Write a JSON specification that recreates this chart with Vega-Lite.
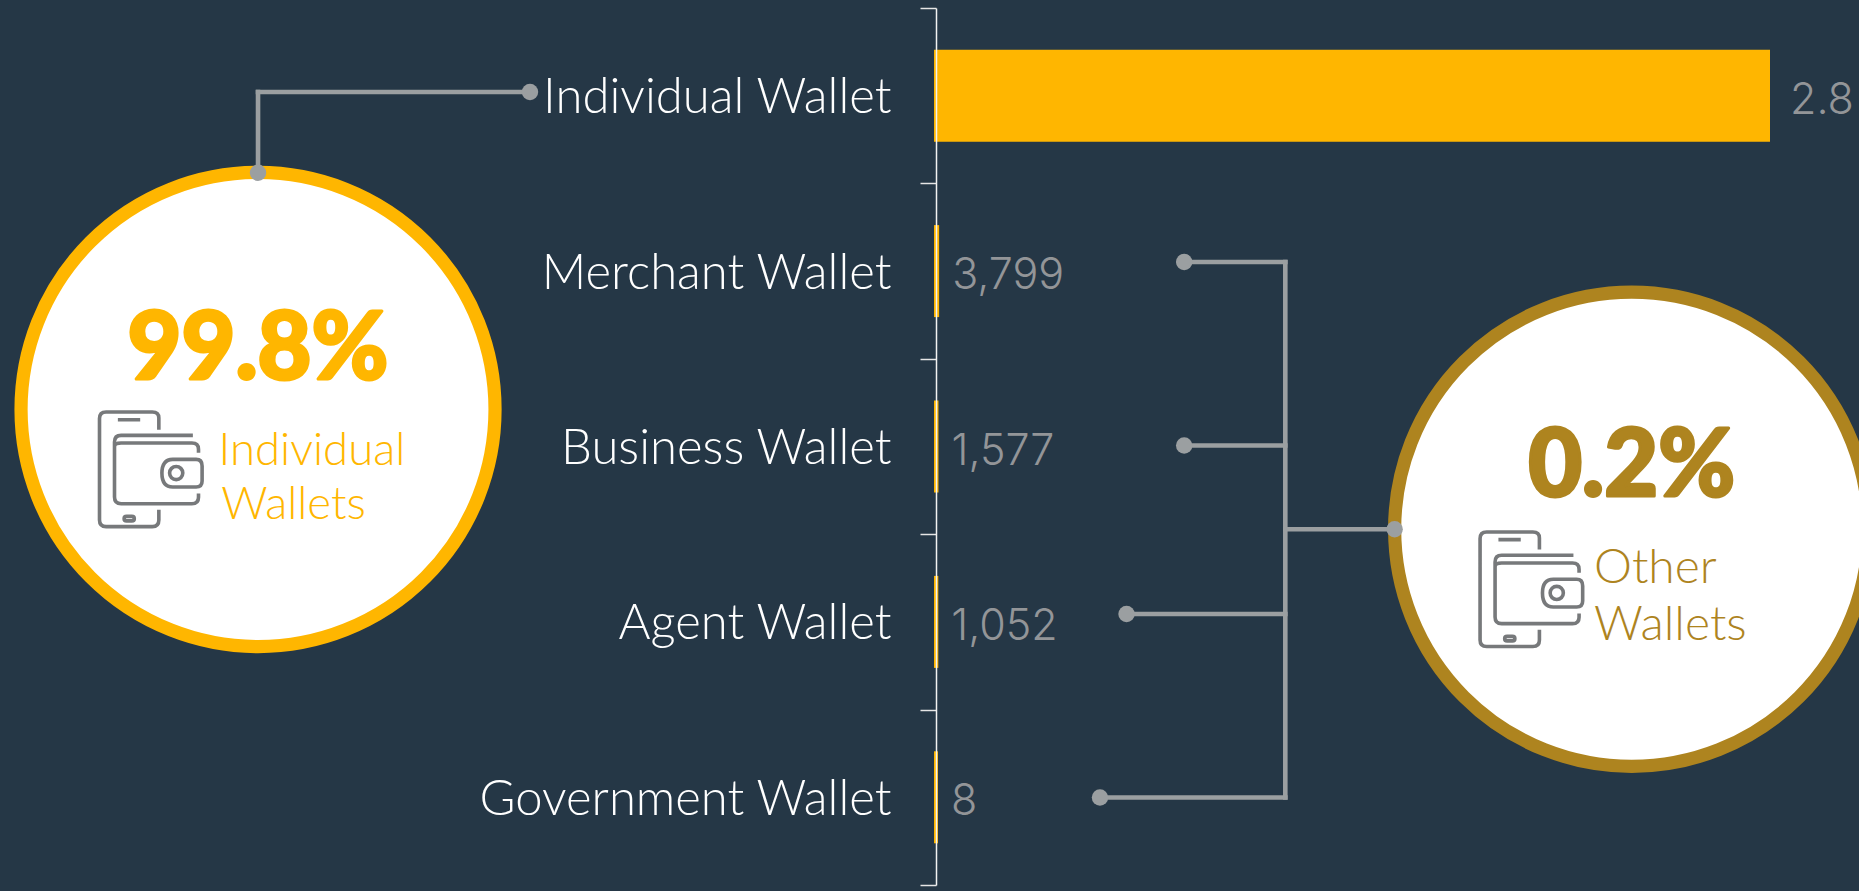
{
"$schema":"https://vega.github.io/schema/vega-lite/v6.json",
"width":1859,"height":891,"autosize":{"type":"none"},"padding":0,"background":"#253746",
"config":{"view":{"stroke":null},"font":"Lato"},
"datasets":{
"wallets":[
{"wallet":"Individual Wallet","value":2800000,"label":"2.8"},
{"wallet":"Merchant Wallet","value":3799,"label":"3,799"},
{"wallet":"Business Wallet","value":1577,"label":"1,577"},
{"wallet":"Agent Wallet","value":1052,"label":"1,052"},
{"wallet":"Government Wallet","value":8,"label":"8"}],
"links":[
{"a":13.88,"b":28.51,"c":10.33,"d":10.33},
{"a":13.88,"b":13.88,"c":10.33,"d":19.3},
{"a":69.14,"b":69.14,"c":29.4,"d":89.51},
{"a":63.64,"b":69.14,"c":29.4,"d":29.4},
{"a":63.64,"b":69.14,"c":50.0,"d":50.0},
{"a":60.57,"b":69.14,"c":68.91,"d":68.91},
{"a":59.17,"b":69.14,"c":89.51,"d":89.51},
{"a":69.14,"b":75.02,"c":59.4,"d":59.4}],
"dots":[
{"a":28.51,"c":10.33},{"a":13.88,"c":19.39},{"a":63.7,"c":29.4},{"a":63.7,"c":50.0},
{"a":60.6,"c":68.91},{"a":59.17,"c":89.51},{"a":75.02,"c":59.4}],
"rings":[
{"group":"Individual","a":13.88,"c":45.96},
{"group":"Other","a":87.77,"c":59.4}],
"icons":[{"a":8.096,"c":52.64},{"a":82.36,"c":66.1}],
"shares":[
{"group":"Individual","text":"99.8%","a":13.88,"c":42.54},
{"group":"Other","text":"0.2%","a":87.77,"c":55.67}],
"namesA":[
{"group":"Individual","text":"Individual","a":11.75,"c":52.19},
{"group":"Individual","text":"Wallets","a":11.9,"c":58.25}],
"namesB":[
{"group":"Other","text":"Other","a":85.75,"c":65.4},
{"group":"Other","text":"Wallets","a":85.75,"c":71.83}]
},
"resolve":{"scale":{"x":"independent","y":"independent"}},
"layer":[
{"data":{"name":"wallets"},
 "encoding":{
  "y":{"field":"wallet","type":"nominal","sort":null,"title":null,
   "scale":{"range":[8,885],"paddingInner":0,"paddingOuter":0},
   "axis":{"orient":"left","offset":-936,"zindex":1,"title":null,"tickBand":"extent","domainColor":"#F2F2F2","domainWidth":1.5,"tickColor":"#E6E6E6","tickWidth":1.5,"tickSize":16,"labelPadding":29,"labelColor":"#FFFFFF","labelFont":"Lato","labelFontSize":49,"labelFontWeight":300,"labelOffset":2,"labelLimit":600,"grid":false}},
  "x":{"field":"value","type":"quantitative","title":null,"axis":null,
   "scale":{"domain":[0,2800000],"range":[936,1768],"nice":false,"zero":true}}},
 "layer":[
  {"mark":{"type":"bar","size":88,"color":"#FFB600","stroke":"#FFB600","strokeWidth":4,"clip":false}},
  {"transform":[{"filter":"datum.value < 100000"}],
   "mark":{"type":"text","align":"left","baseline":"middle","dx":15,"dy":5,"color":"#939598","font":"Inter","fontSize":43,"fontWeight":300},
   "encoding":{"text":{"field":"label","type":"nominal"}}},
  {"transform":[{"filter":"datum.value >= 100000"}],
   "mark":{"type":"text","align":"left","baseline":"middle","dx":22,"dy":5,"color":"#939598","font":"Inter","fontSize":43,"fontWeight":300},
   "encoding":{"text":{"field":"label","type":"nominal"}}}
 ]},
{"encoding":{
  "x":{"field":"a","type":"quantitative","title":null,"axis":null,"scale":{"domain":[0,100],"range":[0,1859],"nice":false,"zero":false}},
  "y":{"field":"c","type":"quantitative","title":null,"axis":null,"scale":{"domain":[0,100],"range":[0,891],"nice":false,"zero":false}}},
 "layer":[
  {"data":{"name":"links"},"mark":{"type":"rule","color":"#9B9FA1","strokeWidth":4.6,"strokeCap":"square"},
   "encoding":{"x2":{"field":"b"},"y2":{"field":"d"}}},
  {"data":{"name":"rings"},"mark":{"type":"point","shape":"circle","filled":false,"fill":"#FFFFFF","fillOpacity":1,"opacity":1,"size":224676,"strokeWidth":13.2},
   "encoding":{"stroke":{"field":"group","type":"nominal","legend":null,"scale":{"domain":["Individual","Other"],"range":["#FFB600","#AE841F"]}}}},
  {"data":{"name":"dots"},"mark":{"type":"point","shape":"circle","filled":true,"color":"#9B9FA1","opacity":1,"size":270}},
  {"data":{"name":"icons"},"mark":{"type":"point","filled":false,"fill":null,"opacity":1,"color":"#77797B","strokeWidth":3.6,"size":14400,
    "shape":"M0.139 -0.656 L0.139 -0.85 Q0.139 -0.95 0.03 -0.95 L-0.74 -0.95 Q-0.85 -0.95 -0.85 -0.84 L-0.85 0.85 Q-0.85 0.96 -0.74 0.96 L0.03 0.96 Q0.139 0.96 0.139 0.85 L0.139 0.678 M-0.544 -0.822 L-0.172 -0.822 M-0.4 0.79 L-0.31 0.79 Q-0.27 0.79 -0.27 0.828 Q-0.27 0.865 -0.31 0.865 L-0.4 0.865 Q-0.44 0.865 -0.44 0.828 Q-0.44 0.79 -0.4 0.79 Z M0.706 -0.561 L-0.49 -0.561 Q-0.6 -0.561 -0.6 -0.45 L-0.6 0.467 Q-0.6 0.578 -0.49 0.578 L0.69 0.578 Q0.8 0.578 0.8 0.47 L0.8 0.41 M-0.6 -0.37 Q-0.6 -0.433 -0.49 -0.433 L0.69 -0.433 Q0.8 -0.433 0.8 -0.33 L0.8 -0.27 M0.86 -0.05 L0.86 0.2 Q0.86 0.3 0.76 0.3 L0.37 0.3 Q0.19 0.3 0.19 0.067 Q0.19 -0.161 0.37 -0.161 L0.76 -0.161 Q0.86 -0.161 0.86 -0.05 Z M0.318 0.067 C0.318 0.006 0.367 -0.043 0.428 -0.043 C0.489 -0.043 0.538 0.006 0.538 0.067 C0.538 0.128 0.489 0.177 0.428 0.177 C0.367 0.177 0.318 0.128 0.318 0.067 Z"}},
  {"data":{"name":"shares"},"mark":{"type":"text","align":"center","baseline":"alphabetic","font":"Lato","fontWeight":900,"fontSize":93,"strokeWidth":3,"strokeJoin":"round"},
   "encoding":{"text":{"field":"text","type":"nominal"},
    "color":{"field":"group","type":"nominal","legend":null,"scale":{"domain":["Individual","Other"],"range":["#FFB600","#AE841F"]}},
    "stroke":{"field":"group","type":"nominal","legend":null,"scale":{"domain":["Individual","Other"],"range":["#FFB600","#AE841F"]}}}},
  {"data":{"name":"namesA"},"mark":{"type":"text","align":"left","baseline":"alphabetic","font":"Lato","fontWeight":300,"fontSize":45.5},
   "encoding":{"text":{"field":"text","type":"nominal"},"color":{"field":"group","type":"nominal","legend":null,"scale":{"domain":["Individual","Other"],"range":["#FFB600","#AE841F"]}}}},
  {"data":{"name":"namesB"},"mark":{"type":"text","align":"left","baseline":"alphabetic","font":"Lato","fontWeight":300,"fontSize":48},
   "encoding":{"text":{"field":"text","type":"nominal"},"color":{"field":"group","type":"nominal","legend":null,"scale":{"domain":["Individual","Other"],"range":["#FFB600","#AE841F"]}}}}
 ]}
]}
